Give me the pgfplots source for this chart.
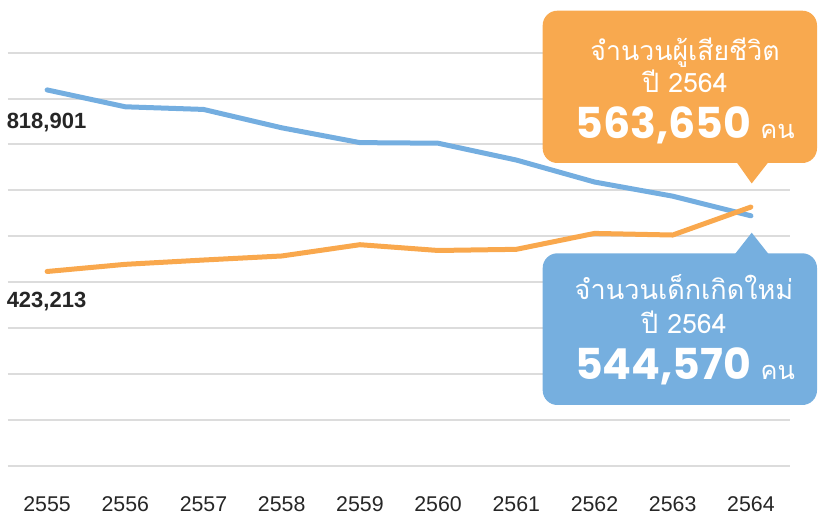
\documentclass[border=0pt]{standalone}
\usepackage{fontspec}
\setmainfont{Liberation Sans}
\newfontfamily\thaifont[Script=Thai]{Loma}
\newfontfamily\numfont{Poppins}
\usepackage{pgfplots}
\pgfplotsset{compat=1.18}

\definecolor{blueline}{HTML}{74AEE0}
\definecolor{orangeline}{HTML}{F9A84D}
\definecolor{bluebox}{HTML}{76AFDF}
\definecolor{orangebox}{HTML}{F8A94F}
\definecolor{gridgray}{HTML}{DCDCDC}
\definecolor{textdark}{HTML}{262626}

\begin{document}
\begin{tikzpicture}[x=0.75pt,y=-0.75pt]
  \useasboundingbox (0,0) rectangle (818,516);
  \begin{axis}[
      at={(6pt,-349.275pt)}, anchor=south west,
      scale only axis,
      width=586.5pt, height=309.75pt,
      xmin=2554.5, xmax=2564.5,
      ymin=0, ymax=900000,
      axis line style={draw=none},
      tick style={draw=none},
      xtick={2555,2556,2557,2558,2559,2560,2561,2562,2563,2564},
      xticklabels={2555,2556,2557,2558,2559,2560,2561,2562,2563,2564},
      ytick={0,100000,200000,300000,400000,500000,600000,700000,800000,900000},
      yticklabels={},
      scaled y ticks=false,
      ymajorgrids,
      grid style={gridgray, line width=1.5pt},
      xticklabel style={font=\fontsize{16}{19}\selectfont, text=textdark,
        anchor=base, yshift=-34pt},
      clip=false
    ]
    % births
    \addplot[blueline, line width=3.75pt, line join=round, line cap=round] coordinates {
      (2555,818901) (2556,782129) (2557,776370) (2558,736352) (2559,704058)
      (2560,702755) (2561,666109) (2562,618193) (2563,587368) (2564,544570)
    };
    % deaths
    \addplot[orangeline, line width=3.75pt, line join=round, line cap=round] coordinates {
      (2555,423213) (2556,438800) (2557,448200) (2558,457000) (2559,481600)
      (2560,469000) (2561,471500) (2562,506200) (2563,502700) (2564,563650)
    };
  \end{axis}

  % start labels
  \node[anchor=west, inner sep=0, text=textdark,
    font=\bfseries\fontsize{16.5}{19}\selectfont] at (6.5,123) {818,901};
  \node[anchor=west, inner sep=0, text=textdark,
    font=\bfseries\fontsize{16.5}{19}\selectfont] at (6.5,301.7) {423,213};

  % orange callout
  \fill[orangebox, rounded corners=11pt] (542.7,10.7) rectangle (817,163);
  \fill[orangebox] (736.5,162) -- (751.7,183.5) -- (768.5,162) -- cycle;
  \node[anchor=base, inner sep=0, text=white, font=\thaifont\fontsize{20}{24}\selectfont]
    at (685,61) {จำนวนผู้เสียชีวิต};
  \node[anchor=base, inner sep=0, text=white, font=\thaifont\fontsize{20}{24}\selectfont]
    at (685,92.7) {ปี 2564};
  \node[anchor=base, inner sep=0, text=white]
    at (685,138.3) {{\numfont\bfseries\fontsize{32}{36}\selectfont 563,650}\hspace{7pt}{\thaifont\fontsize{19}{22}\selectfont คน}};

  % blue callout
  \fill[bluebox, rounded corners=11pt] (542.7,253.3) rectangle (817,405);
  \fill[bluebox] (735,254) -- (751.7,232.7) -- (768.5,254) -- cycle;
  \node[anchor=base, inner sep=0, text=white, font=\thaifont\fontsize{20.3}{24}\selectfont]
    at (684,300) {จำนวนเด็กเกิดใหม่};
  \node[anchor=base, inner sep=0, text=white, font=\thaifont\fontsize{20}{24}\selectfont]
    at (684,333.3) {ปี 2564};
  \node[anchor=base, inner sep=0, text=white]
    at (685,380) {{\numfont\bfseries\fontsize{32}{36}\selectfont 544,570}\hspace{7pt}{\thaifont\fontsize{19}{22}\selectfont คน}};
\end{tikzpicture}
\end{document}
